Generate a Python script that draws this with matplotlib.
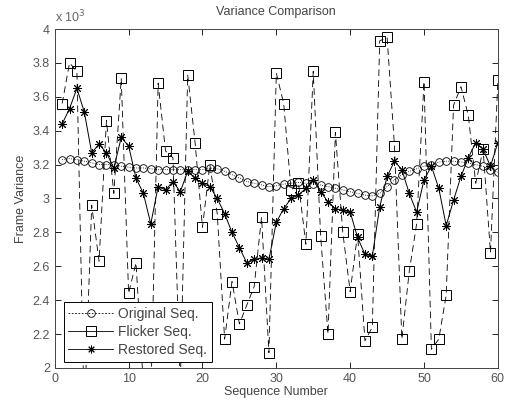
import matplotlib.pyplot as plt
from matplotlib.lines import Line2D

plt.rcParams['font.family'] = ['Liberation Sans', 'DejaVu Sans']

# values are in units of 10^3
seq = list(range(1, 61))
original = [3.23, 3.235, 3.23, 3.22, 3.21, 3.20, 3.20, 3.20, 3.19, 3.185,
            3.18, 3.18, 3.175, 3.17, 3.17, 3.17, 3.17, 3.17, 3.17, 3.17,
            3.18, 3.175, 3.16, 3.14, 3.12, 3.10, 3.09, 3.08, 3.07, 3.075,
            3.085, 3.09, 3.095, 3.09, 3.085, 3.08, 3.07, 3.06, 3.05, 3.04,
            3.03, 3.02, 3.015, 3.03, 3.07, 3.11, 3.14, 3.16, 3.175, 3.19,
            3.20, 3.215, 3.22, 3.22, 3.215, 3.21, 3.20, 3.19, 3.17, 3.155]
flicker = [3.56, 3.80, 3.75, 1.70, 2.96, 2.63, 3.46, 3.03, 3.71, 2.44,
           2.62, 1.90, 1.80, 3.68, 3.28, 3.24, 1.90, 3.73, 3.33, 2.83,
           3.20, 2.91, 2.17, 2.51, 2.26, 2.37, 2.48, 2.89, 2.09, 3.74,
           3.56, 3.05, 3.09, 2.73, 3.75, 2.78, 2.20, 3.39, 2.80, 2.45,
           2.79, 2.16, 2.24, 3.93, 3.95, 3.31, 2.17, 2.57, 2.85, 3.69,
           2.11, 2.17, 2.43, 3.55, 3.66, 3.49, 3.09, 3.29, 2.68, 3.70]
restored = [3.44, 3.53, 3.65, 3.51, 3.27, 3.32, 3.27, 3.18, 3.36, 3.31,
            3.12, 3.03, 2.85, 3.07, 3.05, 3.10, 3.04, 3.16, 3.12, 3.09,
            3.07, 3.00, 2.91, 2.80, 2.71, 2.62, 2.64, 2.65, 2.64, 2.86,
            2.94, 3.00, 3.02, 3.06, 3.11, 3.04, 2.98, 2.94, 2.93, 2.92,
            2.77, 2.67, 2.66, 2.95, 3.13, 3.22, 3.17, 3.03, 2.92, 3.11,
            3.19, 3.06, 2.84, 2.99, 3.13, 3.24, 3.33, 3.29, 3.19, 3.33]

fig = plt.figure(figsize=(5.07, 4.03), dpi=100)
ax = fig.add_axes([0.108, 0.087, 0.874, 0.841])

ax.plot(seq, original, linestyle=':', color='k', lw=0.6, marker='o',
        markersize=5.5, markerfacecolor='none', markeredgewidth=0.6)
ax.plot(seq, flicker, linestyle=(0, (8, 5)), color='k', lw=0.6, marker='s',
        markersize=6.5, markerfacecolor='none', markeredgewidth=0.7)
ax.plot(seq, restored, linestyle='-', color='k', lw=0.7, marker=(8, 2, 0),
        markersize=6.5, markeredgewidth=0.7)

ax.set_xlim(0, 60)
ax.set_ylim(2, 4)
ax.set_xticks(range(0, 61, 10))
yt = [2 + 0.2 * i for i in range(11)]
ax.set_yticks(yt)
ax.set_yticklabels(['%g' % round(v, 1) for v in yt])
ax.tick_params(direction='in', top=True, right=True, labelsize=9,
               labelcolor='#555555', length=4, width=0.6)
for s in ax.spines.values():
    s.set_linewidth(0.7)
    s.set_color('#444444')

ax.text(0.0, 1.01, r'x 10$^3$', transform=ax.transAxes, fontsize=9,
        color='#666666', ha='left', va='bottom')
ax.set_title('Variance Comparison', fontsize=9, color='#444444', pad=10)
ax.set_xlabel('Sequence Number', fontsize=9, color='#444444', labelpad=1)
ax.set_ylabel('Frame Variance', fontsize=9, color='#444444', labelpad=4)

handles = [
    Line2D([], [], color='k', lw=0.6, linestyle=(0, (2, 2)), marker='o',
           markersize=5.5, markerfacecolor='none', markeredgewidth=0.6),
    Line2D([], [], color='k', lw=0.6, marker='s', markersize=6.5,
           markerfacecolor='none', markeredgewidth=0.7),
    Line2D([], [], color='k', lw=0.6, marker=(8, 2, 0), markersize=5.5,
           markeredgewidth=0.7),
]
leg = ax.legend(handles, ['Original Seq.', 'Flicker Seq.', 'Restored Seq.'],
                loc='lower left', bbox_to_anchor=(0.02, 0.018), borderaxespad=0,
                fancybox=False, edgecolor='k', framealpha=1, fontsize=10,
                handlelength=3.2, handletextpad=0.4, labelspacing=0.3,
                borderpad=0.35)
leg.get_frame().set_linewidth(0.7)
for t in leg.get_texts():
    t.set_color('#444444')

fig.savefig('out.png', dpi=100)
